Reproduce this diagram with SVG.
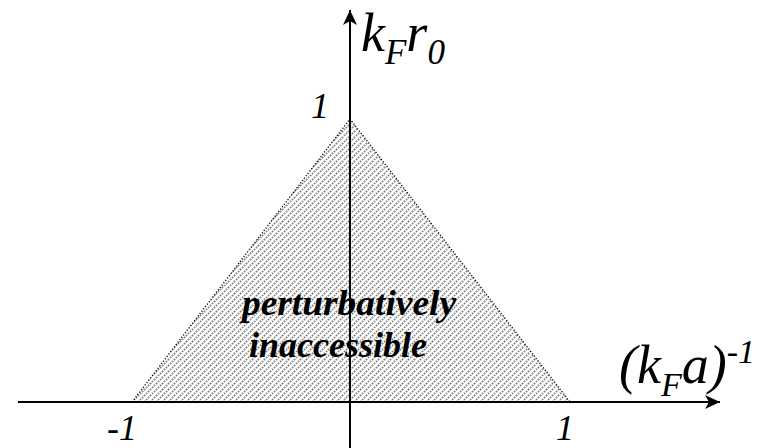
<svg xmlns="http://www.w3.org/2000/svg" width="772" height="448" viewBox="0 0 772 448">
<style>
text{font-family:'Liberation Serif','Times New Roman',serif;font-style:italic;fill:#000}
.b{font-weight:bold}
.ax{stroke:#000;stroke-width:2;fill:none}
</style>
<defs>
<pattern id="hatch" patternUnits="userSpaceOnUse" width="6" height="6">
<path d="M-1,1 L1,-1 M0,6 L6,0 M5,7 L7,5" stroke="#858585" stroke-width="1.7" stroke-dasharray="1.7 1.1"/>
</pattern>
<marker id="arr" markerWidth="16" markerHeight="16" refX="15" refY="8" orient="auto" markerUnits="userSpaceOnUse">
<path d="M0,1 L15,8 L0,15 L4,8 Z" fill="#000"/>
</marker>
</defs>
<rect width="772" height="448" fill="#fff"/>
<g id="region">
<polygon points="132,402 350,119 570,402" fill="url(#hatch)" stroke="#000" stroke-width="1.3" stroke-dasharray="1.2 1.8"/>
</g>
<g id="axes">
<line class="ax" x1="18" y1="402" x2="720" y2="402" marker-end="url(#arr)"/>
<line class="ax" x1="350" y1="448" x2="350" y2="10" marker-end="url(#arr)"/>
</g>
<g id="labels">
<text x="361" y="51" font-size="54">k<tspan font-size="35" dy="13">F</tspan><tspan dy="-13">r</tspan><tspan font-size="35" dy="13">0</tspan></text>
<text x="311" y="118" font-size="36">1</text>
<text x="107" y="440" font-size="36">-1</text>
<text x="556" y="440" font-size="36">1</text>
<text x="619" y="383" font-size="54">(k<tspan font-size="34" dy="13">F</tspan><tspan dy="-13">a)</tspan><tspan font-size="34" dy="-20">-1</tspan></text>
<text class="b" x="349" y="315" font-size="36" text-anchor="middle" textLength="214" lengthAdjust="spacingAndGlyphs">perturbatively</text>
<text class="b" x="338" y="357" font-size="36" text-anchor="middle">inaccessible</text>
</g>
</svg>
